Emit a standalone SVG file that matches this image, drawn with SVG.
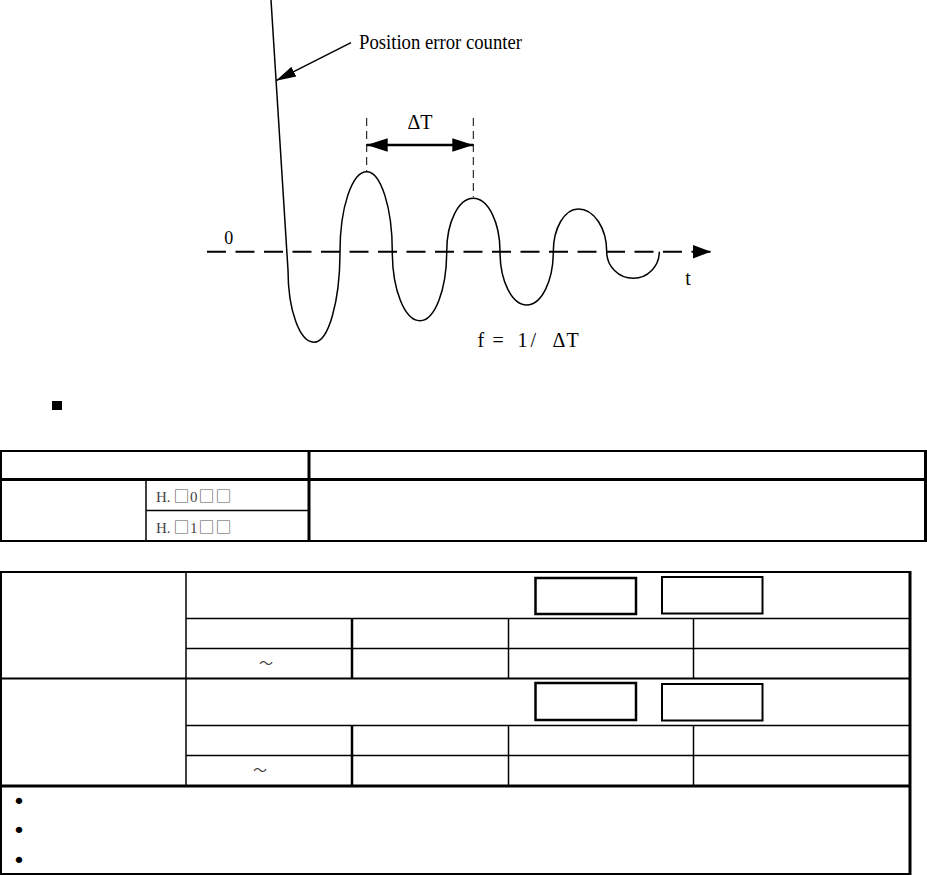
<svg xmlns="http://www.w3.org/2000/svg" width="927" height="875" viewBox="0 0 927 875">
<style>
.ser{font-family:"Liberation Serif","Times New Roman",serif;fill:#000}
.cjk{font-family:"Liberation Serif","Noto Sans CJK SC",serif;fill:#444}
.sq{font-family:"Noto Sans CJK SC",sans-serif;fill:#555}
.bul{font-family:"DejaVu Sans",sans-serif;fill:#000}
.ln{stroke:#000;fill:none}
.t1{stroke-width:1.5}
.t2{stroke-width:2}
.t3{stroke-width:3}
.box{fill:none;stroke:#000}
</style>
<defs>
<marker id="ah" markerUnits="userSpaceOnUse" markerWidth="22" markerHeight="14" refX="20" refY="7" orient="auto"><path d="M0,1.5 L20,7 L0,12.5 z" fill="#000"/></marker>
<marker id="ah2" markerUnits="userSpaceOnUse" markerWidth="23" markerHeight="16" refX="21" refY="7" orient="auto-start-reverse"><path d="M0,0.3 L21,7 L0,13.7 z" fill="#000"/></marker>
<marker id="ah3" markerUnits="userSpaceOnUse" markerWidth="20" markerHeight="16" refX="18" refY="7" orient="auto"><path d="M0,0.3 L18,7 L0,13.7 z" fill="#000"/></marker>
</defs>

<g id="axis">
<line class="ln" x1="207" y1="251.7" x2="711" y2="251.7" stroke-width="2" stroke-dasharray="19,9.5" marker-end="url(#ah3)"/>
<text class="ser" x="228.7" y="244" font-size="18" text-anchor="middle">0</text>
<text class="ser" x="688" y="285" font-size="20" text-anchor="middle">t</text>
</g>

<g id="waveform">
<path class="ln" stroke-width="1.5" d="M271,0 L288,270 C288,309.9 299.6,342.3 314,342.3 C328.4,342.3 340,301.7 340,251.7 C340,207.5 352,171.7 366.7,171.7 C380.8,171.7 392.3,207.5 392.3,251.7 C392.3,289.8 404.7,320.7 420,320.7 C434.7,320.7 446.7,289.8 446.7,251.7 C446.7,222.2 458.6,198.3 473.3,198.3 C488,198.3 500,222.2 500,251.7 C500,281.1 512,305 526.7,305 C541.4,305 553.3,281.1 553.3,251.7 C553.3,228.1 564.5,209 578.3,209 C594,209 606.7,228.1 606.7,251.7 C606.7,266.4 618.6,278.3 633.3,278.3 C647.7,278.3 659.3,266.4 659.3,251.7"/>
</g>

<g id="label-position">
<text class="ser" x="359" y="49" font-size="20" textLength="163" lengthAdjust="spacingAndGlyphs">Position error counter</text>
</g>

<g id="delta-t">
<line class="ln" x1="366.7" y1="118" x2="366.7" y2="171" stroke-width="1" stroke-dasharray="8,5"/>
<line class="ln" x1="473.3" y1="118" x2="473.3" y2="197" stroke-width="1" stroke-dasharray="8,5"/>
<text class="ser" x="420" y="129" font-size="20" text-anchor="middle">ΔT</text>
</g>

<g id="formula">
<text class="ser" y="347" font-size="20" x="477.5 483 492.5 505 517.5 524 530.5 540 552.5 566.5">f = 1 / ΔT</text>
</g>

<g id="connectors">
<line class="ln" x1="351" y1="42.7" x2="276" y2="80.7" stroke-width="1.5" marker-end="url(#ah)"/>
<line class="ln" x1="366.7" y1="145" x2="473.3" y2="145" stroke-width="2.5" marker-start="url(#ah2)" marker-end="url(#ah2)"/>
</g>

<g id="bullet-square">
<rect x="52" y="401" width="10" height="9" fill="#000"/>
</g>

<g id="table1">
<line class="ln t2" x1="0" y1="451" x2="927" y2="451"/>
<line class="ln t2" x1="1" y1="451" x2="1" y2="541"/>
<line class="ln t3" x1="925.5" y1="450" x2="925.5" y2="542"/>
<line class="ln t3" x1="0" y1="479.5" x2="927" y2="479.5"/>
<line class="ln t3" x1="309" y1="451" x2="309" y2="541"/>
<line class="ln t1" x1="146" y1="479.5" x2="146" y2="541"/>
<line class="ln t1" x1="146" y1="510.5" x2="309" y2="510.5"/>
<line class="ln t2" x1="0" y1="541" x2="927" y2="541"/>
<text class="cjk" y="501.5" font-size="15"><tspan x="156">H. </tspan><tspan class="sq" x="173.5" font-size="16">□</tspan><tspan x="190">0</tspan><tspan class="sq" x="198.5" font-size="16">□</tspan><tspan class="sq" x="215.5" font-size="16">□</tspan></text>
<text class="cjk" y="532.5" font-size="15"><tspan x="156">H. </tspan><tspan class="sq" x="173.5" font-size="16">□</tspan><tspan x="190">1</tspan><tspan class="sq" x="198.5" font-size="16">□</tspan><tspan class="sq" x="215.5" font-size="16">□</tspan></text>
</g>

<g id="table2">
<line class="ln t2" x1="0" y1="572" x2="911" y2="572"/>
<line class="ln t2" x1="1" y1="572" x2="1" y2="875"/>
<line class="ln t3" x1="910" y1="571" x2="910" y2="875"/>
<line class="ln t2" x1="0" y1="874" x2="911" y2="874"/>
<line class="ln t1" x1="186" y1="572" x2="186" y2="786"/>
<line class="ln t1" x1="186" y1="618.5" x2="910" y2="618.5"/>
<line class="ln t1" x1="186" y1="648.5" x2="910" y2="648.5"/>
<line class="ln t2" x1="0" y1="678.5" x2="910" y2="678.5"/>
<line class="ln t1" x1="186" y1="725.5" x2="910" y2="725.5"/>
<line class="ln t1" x1="186" y1="755.5" x2="910" y2="755.5"/>
<line class="ln t3" x1="0" y1="786" x2="910" y2="786"/>
<line class="ln" stroke-width="2.5" x1="352" y1="618.5" x2="352" y2="678.5"/>
<line class="ln t1" x1="508.5" y1="618.5" x2="508.5" y2="678.5"/>
<line class="ln t1" x1="693.5" y1="618.5" x2="693.5" y2="678.5"/>
<line class="ln" stroke-width="2.5" x1="352" y1="725.5" x2="352" y2="786"/>
<line class="ln t1" x1="508.5" y1="725.5" x2="508.5" y2="786"/>
<line class="ln t1" x1="693.5" y1="725.5" x2="693.5" y2="786"/>
<rect class="box" x="535.5" y="578" width="100.5" height="36" stroke-width="2.5"/>
<rect class="box" x="662" y="577" width="100.5" height="36.5" stroke-width="2"/>
<rect class="box" x="535.5" y="683" width="100.5" height="37" stroke-width="2.5"/>
<rect class="box" x="662" y="684" width="100.5" height="36.5" stroke-width="2"/>
<text class="cjk" x="266" y="668" font-size="14" text-anchor="middle">～</text>
<text class="cjk" x="260" y="775" font-size="14" text-anchor="middle">～</text>
<text class="bul" x="19" y="808.5" font-size="22" text-anchor="middle">•</text>
<text class="bul" x="19" y="838" font-size="22" text-anchor="middle">•</text>
<text class="bul" x="19" y="867.5" font-size="22" text-anchor="middle">•</text>
</g>
</svg>
